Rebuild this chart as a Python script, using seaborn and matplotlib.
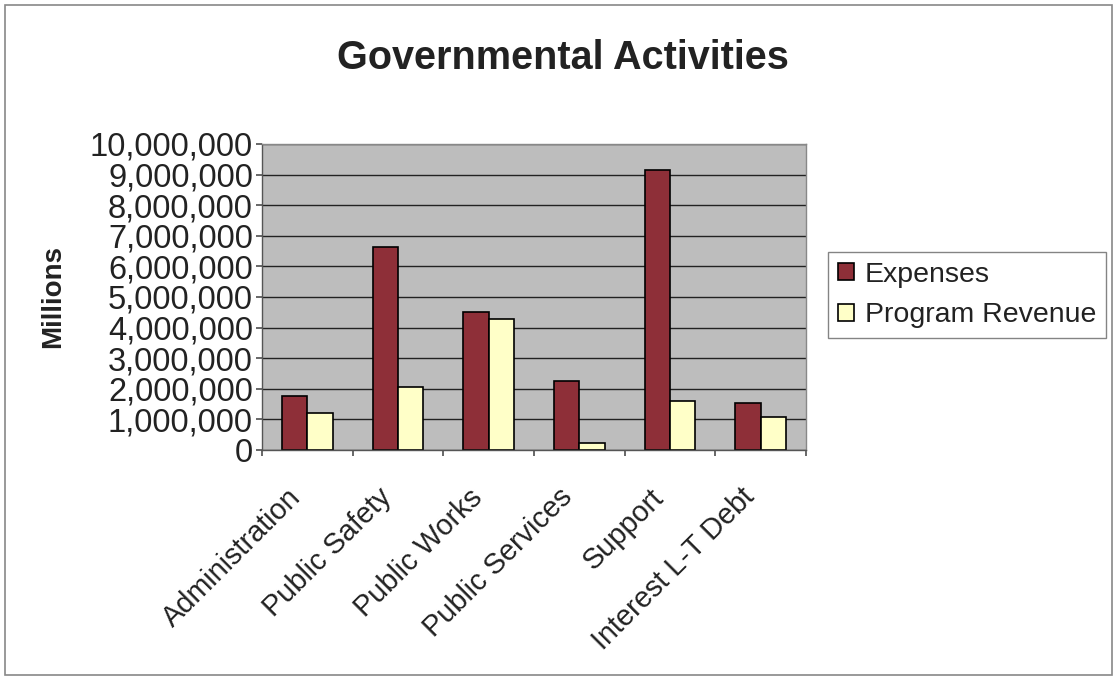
import matplotlib
matplotlib.use("Agg")
import matplotlib.pyplot as plt
import seaborn as sns
import pandas as pd
from matplotlib.patches import Rectangle
from matplotlib.ticker import FuncFormatter
from matplotlib.transforms import ScaledTranslation

categories = ["Administration", "Public Safety", "Public Works",
              "Public Services", "Support", "Interest L-T Debt"]
expenses = [1760000, 6640000, 4520000, 2240000, 9150000, 1550000]
program_revenue = [1220000, 2070000, 4270000, 220000, 1610000, 1070000]
series_names = ["Expenses", "Program Revenue"]
y_ticks = list(range(0, 10000001, 1000000))

df = pd.DataFrame({
    "Category": categories * 2,
    "Value": expenses + program_revenue,
    "Series": [series_names[0]] * len(categories) + [series_names[1]] * len(categories),
})

sns.set_theme(style="white")
plt.rcParams["font.family"] = ["Liberation Sans", "DejaVu Sans"]

fig = plt.figure(figsize=(11.17, 6.79), dpi=100)
fig.patch.set_facecolor("white")
ax = fig.add_axes([262/1117, 1-450/679, (806-262)/1117, (450-144)/679])

sns.barplot(data=df, x="Category", y="Value", hue="Series", ax=ax,
            palette={"Expenses": "#8E2F38", "Program Revenue": "#FFFFC8"},
            edgecolor="black", linewidth=1.2, width=0.56, legend=True,
            saturation=1)

ax.set_facecolor("#BDBDBD")
ax.set_ylim(0, 10000000)
ax.set_xlim(-0.5, len(categories) - 0.5)
ax.set_yticks(y_ticks)
ax.yaxis.set_major_formatter(FuncFormatter(lambda v, p: f"{int(v):,}"))
ax.yaxis.grid(True, color="#222222", linewidth=1.0)
ax.set_axisbelow(True)
for s in ["top", "right"]:
    ax.spines[s].set_color("#888888")
    ax.spines[s].set_linewidth(1.0)
for s in ["left", "bottom"]:
    ax.spines[s].set_color("#555555")
    ax.spines[s].set_linewidth(1.0)

ax.tick_params(axis="y", labelsize=23.5, length=4.5, direction="out", left=True,
               color="#555555", pad=2, labelcolor="#222222")
# major ticks at group boundaries, labels at group centres (minor)
ax.set_xticks([i + 0.5 for i in range(-1, len(categories))], minor=False)
ax.set_xticklabels([""] * (len(categories) + 1))
ax.tick_params(axis="x", which="major", length=4.5, direction="out", bottom=True,
               color="#555555")
ax.set_xticks(range(len(categories)), labels=categories, minor=True)
ax.tick_params(axis="x", which="minor", length=0, pad=29.5, labelcolor="#222222")
shift = ScaledTranslation(-13/100, 0, fig.dpi_scale_trans)
for lbl in ax.get_xticklabels(minor=True):
    lbl.set_rotation(45)
    lbl.set_ha("right")
    lbl.set_va("center_baseline")
    lbl.set_rotation_mode("anchor")
    lbl.set_fontsize(20.8)
    lbl.set_transform(lbl.get_transform() + shift)

ax.set_xlabel("")
ax.set_ylabel("")
fig.text(53/1117, 1-297/679, "Millions", rotation=90, fontsize=20,
         fontweight="bold", ha="center", va="center", color="#222222")

fig.text(563/1117, 1-58/679, "Governmental Activities", fontsize=28.5,
         fontweight="bold", ha="center", va="center", color="#222222")

handles, labels = ax.get_legend_handles_labels()
ax.legend_.remove()
leg = fig.legend(handles, labels, loc="upper left",
                 bbox_to_anchor=(828/1117, 1-252/679), fontsize=20.5,
                 frameon=True, fancybox=False, edgecolor="#666666",
                 handlelength=0.55, handleheight=0.55, handletextpad=0.4,
                 labelspacing=0.5, borderpad=0.35, borderaxespad=0)
leg.get_frame().set_linewidth(1.0)
for t in leg.get_texts():
    t.set_color("#222222")

fig.patches.append(Rectangle((5/1117, 4/679), 1107/1117, 670/679,
                             transform=fig.transFigure, fill=False,
                             edgecolor="#888888", linewidth=1.2))

fig.savefig("out.png", dpi=100)
